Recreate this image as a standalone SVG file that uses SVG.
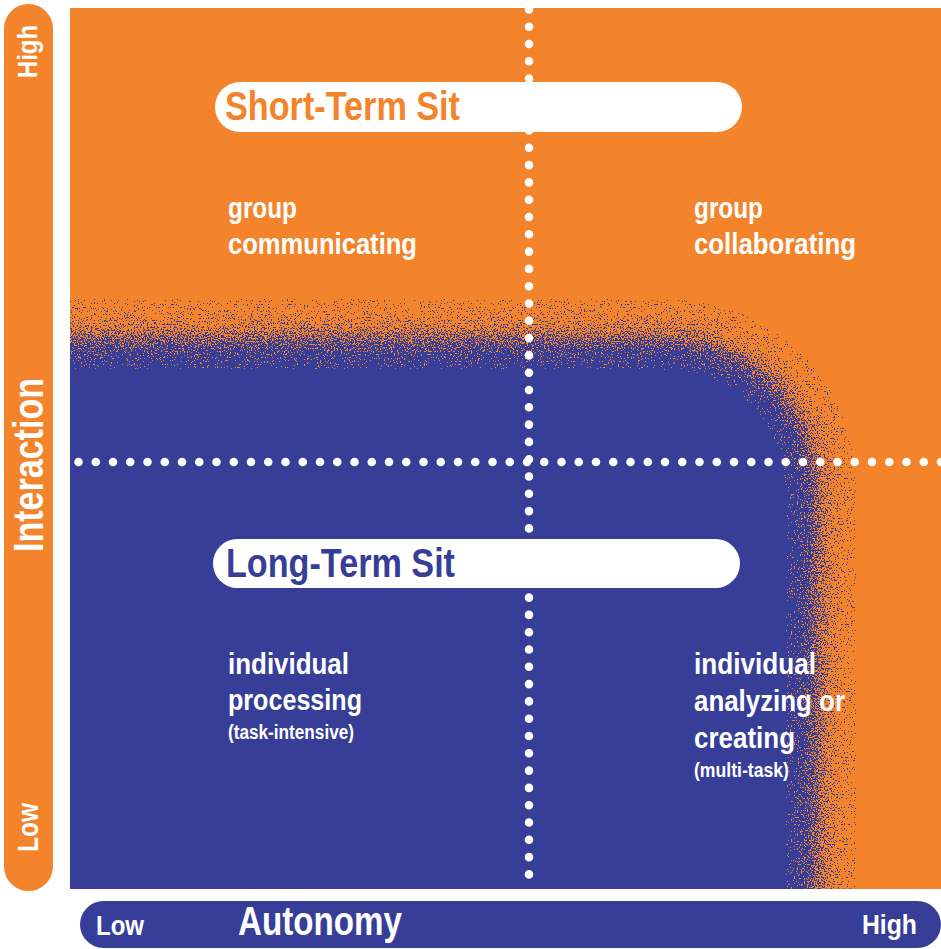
<svg xmlns="http://www.w3.org/2000/svg" width="941" height="949" viewBox="0 0 941 949">
  <style>
    .t { font-family: "Liberation Sans", Arial, sans-serif; font-weight: bold; }
    .w { fill: #ffffff; }
    .body { font-size: 30px; }
    .small { font-size: 20px; }
    .dots { fill: none; stroke: #ffffff; stroke-width: 8.6; stroke-linecap: round; }
  </style>
  <defs>
    <clipPath id="area"><rect x="70" y="8" width="871" height="881"/></clipPath>
    <filter id="dither" filterUnits="userSpaceOnUse" x="-150" y="150" width="1200" height="900" color-interpolation-filters="sRGB">
      <feGaussianBlur in="SourceAlpha" stdDeviation="18" result="b"/>
      <feTurbulence type="fractalNoise" baseFrequency="0.7" numOctaves="1" seed="7" result="n"/>
      <feColorMatrix in="n" type="matrix" values="0 0 0 0 0  0 0 0 0 0  0 0 0 0 0  3 0 0 0 -1" result="na"/>
      <feComposite in="b" in2="na" operator="arithmetic" k2="1" k3="-0.96" k4="0.49" result="d"/>
      <feComponentTransfer in="d" result="th"><feFuncA type="discrete" tableValues="0 1"/></feComponentTransfer>
      <feFlood flood-color="#363E98"/>
      <feComposite operator="in" in2="th"/>
    </filter>
  </defs>

  <g id="field">
    <rect x="70" y="8" width="871" height="881" fill="#F4842B"/>
    <g clip-path="url(#area)">
      <path d="M-100,337 H668 A150,150 0 0 1 818,487 V1000 H-100 Z" fill="#363E98" filter="url(#dither)"/>
    </g>
  </g>

  <g id="connectors">
    <line class="dots" x1="529" y1="9.4" x2="529" y2="880" stroke-dasharray="0 17.3"/>
    <line class="dots" x1="78.5" y1="462" x2="945" y2="462" stroke-dasharray="0 17.25"/>
  </g>

  <g id="axis-interaction">
    <rect x="4" y="4" width="49" height="887" rx="24.5" fill="#F4842B"/>
    <text class="t w" transform="translate(37,78) rotate(-90)" font-size="28" textLength="53" lengthAdjust="spacingAndGlyphs">High</text>
    <text class="t w" transform="translate(43,552) rotate(-90)" font-size="42" textLength="174" lengthAdjust="spacingAndGlyphs">Interaction</text>
    <text class="t w" transform="translate(38,852) rotate(-90)" font-size="29" textLength="49" lengthAdjust="spacingAndGlyphs">Low</text>
  </g>

  <g id="axis-autonomy">
    <rect x="80" y="901" width="861" height="47" rx="23.5" fill="#363E98"/>
    <text class="t w" x="96" y="935" font-size="28" textLength="48" lengthAdjust="spacingAndGlyphs">Low</text>
    <text class="t w" x="238" y="935" font-size="40" textLength="164" lengthAdjust="spacingAndGlyphs">Autonomy</text>
    <text class="t w" x="862" y="934" font-size="28" textLength="55" lengthAdjust="spacingAndGlyphs">High</text>
  </g>

  <g id="short-term-sit">
    <rect x="215" y="82" width="527" height="50" rx="25" fill="#ffffff"/>
    <text class="t" x="225" y="120" font-size="40" fill="#F4842B" textLength="235" lengthAdjust="spacingAndGlyphs">Short-Term Sit</text>
  </g>

  <g id="long-term-sit">
    <rect x="213" y="539" width="527" height="49" rx="24.5" fill="#ffffff"/>
    <text class="t" x="226" y="577" font-size="40" fill="#363E98" textLength="229" lengthAdjust="spacingAndGlyphs">Long-Term Sit</text>
  </g>

  <g id="group-communicating">
    <text class="t w body" x="228" y="218" textLength="69" lengthAdjust="spacingAndGlyphs">group</text>
    <text class="t w body" x="228" y="254" textLength="189" lengthAdjust="spacingAndGlyphs">communicating</text>
  </g>

  <g id="group-collaborating">
    <text class="t w body" x="694" y="218" textLength="69" lengthAdjust="spacingAndGlyphs">group</text>
    <text class="t w body" x="694" y="254" textLength="162" lengthAdjust="spacingAndGlyphs">collaborating</text>
  </g>

  <g id="individual-processing">
    <text class="t w body" x="228" y="674" textLength="121" lengthAdjust="spacingAndGlyphs">individual</text>
    <text class="t w body" x="228" y="710" textLength="134" lengthAdjust="spacingAndGlyphs">processing</text>
    <text class="t w small" x="228" y="739" textLength="126" lengthAdjust="spacingAndGlyphs">(task-intensive)</text>
  </g>

  <g id="individual-analyzing">
    <text class="t w body" x="694" y="674" textLength="122" lengthAdjust="spacingAndGlyphs">individual</text>
    <text class="t w body" x="694" y="711" textLength="151" lengthAdjust="spacingAndGlyphs">analyzing or</text>
    <text class="t w body" x="694" y="748" textLength="101" lengthAdjust="spacingAndGlyphs">creating</text>
    <text class="t w small" x="694" y="777" textLength="95" lengthAdjust="spacingAndGlyphs">(multi-task)</text>
  </g>
</svg>
